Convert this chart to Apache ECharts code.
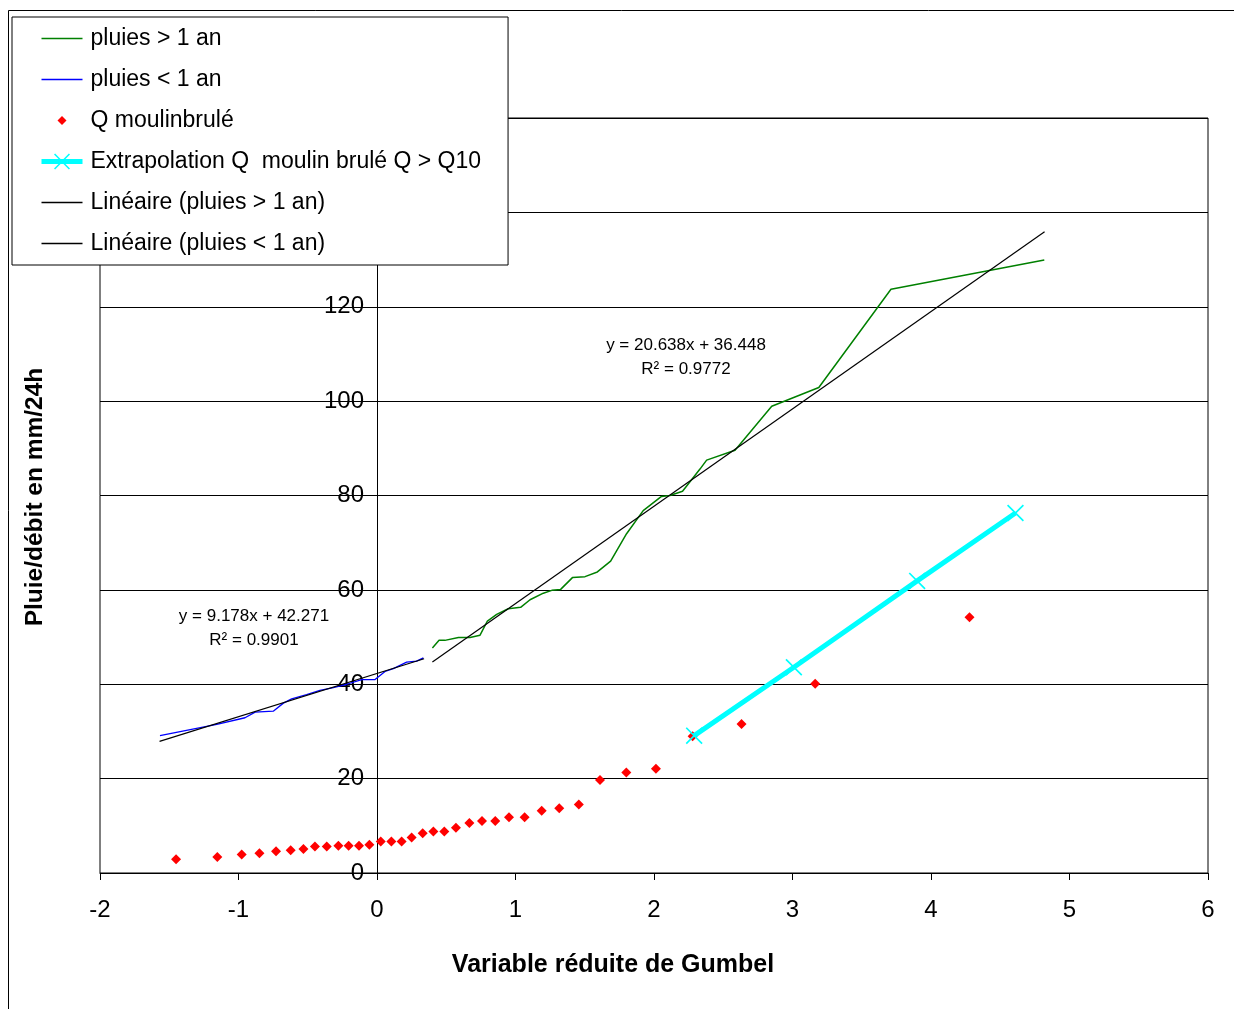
<!DOCTYPE html>
<html><head><meta charset="utf-8">
<script src="https://cdn.jsdelivr.net/npm/echarts@6/dist/echarts.min.js"></script>
<style>html,body{margin:0;padding:0;background:#fff}#c{width:1234px;height:1009px}</style>
</head><body><div id="c"></div>
<script>
// ---- data ----
const xTicks = [-2, -1, 0, 1, 2, 3, 4, 5, 6];
const yTicks = [0, 20, 40, 60, 80, 100, 120, 140, 160];

const pluiesSupX = [0.40,0.448,0.49,0.588,0.671,0.744,0.797,0.864,0.948,1.037,1.105,1.201,1.262,1.326,1.411,1.502,1.591,1.687,1.802,1.922,2.054,2.115,2.206,2.332,2.38,2.585,2.85,3.19,3.711,4.818];
const pluiesSupY = [47.7,49.3,49.3,49.9,49.9,50.4,53.4,54.8,56.0,56.3,57.9,59.3,59.9,60.1,62.6,62.8,63.8,66.1,71.9,76.8,79.8,80.0,80.9,85.6,87.5,89.6,98.9,102.9,123.7,129.9];

const pluiesInfX = [-1.567,-1.157,-0.953,-0.88,-0.749,-0.676,-0.616,-0.508,-0.412,-0.315,-0.219,-0.11,-0.014,0.058,0.118,0.214,0.286,0.335];
const pluiesInfY = [29.1,31.5,32.9,34.1,34.3,36.0,36.9,37.8,38.7,39.3,40.0,41.0,41.0,42.7,43.3,44.7,44.9,45.6];

const qX = [-1.451,-1.153,-0.977,-0.849,-0.729,-0.623,-0.531,-0.448,-0.363,-0.279,-0.205,-0.13,-0.055,0.027,0.104,0.178,0.25,0.33,0.407,0.486,0.57,0.667,0.758,0.854,0.953,1.066,1.189,1.316,1.457,1.61,1.80,2.014,2.279,2.632,3.164,4.278];
const qY = [2.9,3.4,3.9,4.2,4.6,4.8,5.1,5.6,5.6,5.8,5.8,5.8,6.0,6.7,6.7,6.7,7.5,8.4,8.8,8.8,9.6,10.6,11.0,11.0,11.8,11.8,13.2,13.7,14.5,19.7,21.3,22.1,29.0,31.6,40.1,54.2];

const extraX = [2.29, 3.01, 3.90, 4.61];
const extraY = [29.1, 43.6, 61.9, 76.3];

const trendSupX = [0.40, 4.82];
const trendSupY = [44.7, 135.9];
const trendInfX = [-1.57, 0.34];
const trendInfY = [27.9, 45.4];

const names = ['pluies > 1 an', 'pluies < 1 an', 'Q moulinbrulé', 'Extrapolation Q  moulin brulé Q > Q10', 'Linéaire (pluies > 1 an)', 'Linéaire (pluies < 1 an)'];
const eqSup = ['y = 20.638x + 36.448', 'R² = 0.9772'];
const eqInf = ['y = 9.178x + 42.271', 'R² = 0.9901'];
const xTitle = 'Variable réduite de Gumbel';
const yTitle = 'Pluie/débit en mm/24h';

// ---- chart ----
const FONT = '"Liberation Sans", Arial, sans-serif';
const pairs = (xs, ys) => xs.map((x, i) => [x, ys[i]]);
const XPATH = 'path://M0,0.7L0.7,0L10,9.3L9.3,10Z M9.3,0L10,0.7L0.7,10L0,9.3Z';
const DIAMOND_ICON = 'path://M0,0M20,20M10,5.5L14.5,10L10,14.5L5.5,10Z';
const LINE_ICON = 'path://M0,9.25L41,9.25L41,10.75L0,10.75Z';

const X_MIN = xTicks[0], X_MAX = xTicks[xTicks.length - 1];
const GRID_L = 100, GRID_R = 26;
const plotW = 1234 - GRID_L - GRID_R;
// move the y axis (line, ticks, labels) to x = 0, like the original
const yAxisOffset = -plotW * (0 - X_MIN) / (X_MAX - X_MIN);

const chart = echarts.init(document.getElementById('c'));
const txt = (text, x, y, size, bold, rot) => ({
  type: 'text', x: x, y: y, rotation: rot || 0, silent: true, z: 10,
  style: {
    text: text, fill: '#000',
    font: (bold ? 'bold ' : '') + size + 'px ' + FONT,
    align: 'center', verticalAlign: 'middle',
    textAlign: 'center', textVerticalAlign: 'middle'
  }
});

chart.setOption({
  animation: false,
  backgroundColor: '#fff',
  textStyle: { fontFamily: FONT },
  grid: { left: GRID_L, top: 118, right: GRID_R, bottom: 136, show: true, borderColor: '#000', borderWidth: 1 },
  xAxis: {
    type: 'value', min: X_MIN, max: X_MAX, interval: 1,
    axisLine: { onZero: true, lineStyle: { color: '#000', width: 1 } },
    axisTick: { show: true, length: 7, lineStyle: { color: '#000' } },
    axisLabel: { fontSize: 24, color: '#000', margin: 25, fontFamily: FONT },
    splitLine: { show: false }
  },
  yAxis: {
    type: 'value', min: yTicks[0], max: yTicks[yTicks.length - 1], interval: 20,
    offset: yAxisOffset,
    axisLine: { show: true, onZero: false, lineStyle: { color: '#000', width: 1 } },
    axisTick: { show: true, length: 7, lineStyle: { color: '#000' } },
    axisLabel: { fontSize: 24, color: '#000', margin: 13, fontFamily: FONT },
    splitLine: { show: true, lineStyle: { color: '#000', width: 1 } }
  },
  legend: {
    orient: 'vertical', left: 12, top: 17,
    padding: [10, 27, 10, 27],
    itemWidth: 41, itemHeight: 20, itemGap: 18,
    backgroundColor: '#fff', borderColor: '#000', borderWidth: 1, borderRadius: 0,
    textStyle: { fontSize: 23, color: '#000', padding: [0, 0, 0, 3], fontFamily: FONT },
    data: [
      { name: names[0], icon: LINE_ICON },
      { name: names[1], icon: LINE_ICON },
      { name: names[2], icon: DIAMOND_ICON },
      { name: names[3], lineStyle: { width: 5 } },
      { name: names[4], icon: LINE_ICON },
      { name: names[5], icon: LINE_ICON }
    ],
    z: 20
  },
  graphic: [
    { type: 'rect', silent: true, z: 0, shape: { x: 8.5, y: 10.5, width: 1240, height: 1010 }, style: { fill: 'none', stroke: '#000', lineWidth: 1 } },
    txt(yTitle, 35, 497, 24.5, true, Math.PI / 2),
    txt(xTitle, 613, 965, 25, true),
    txt(eqSup[0], 686, 345, 17, false),
    txt(eqSup[1], 686, 369, 17, false),
    txt(eqInf[0], 254, 616, 17, false),
    txt(eqInf[1], 254, 640, 17, false)
  ],
  series: [
    { name: names[0], type: 'line', data: pairs(pluiesSupX, pluiesSupY), symbol: 'none', z: 3,
      lineStyle: { color: '#008000', width: 1.5 }, itemStyle: { color: '#008000' } },
    { name: names[1], type: 'line', data: pairs(pluiesInfX, pluiesInfY), symbol: 'none', z: 3,
      lineStyle: { color: '#0000FF', width: 1.3 }, itemStyle: { color: '#0000FF' } },
    { name: names[2], type: 'scatter', data: pairs(qX, qY), symbol: 'diamond', symbolSize: 10, z: 2,
      itemStyle: { color: '#FF0000', opacity: 1 } },
    { name: names[3], type: 'line', data: pairs(extraX, extraY), symbol: XPATH, symbolSize: 17, z: 4,
      lineStyle: { color: '#00FFFF', width: 5 }, itemStyle: { color: '#00FFFF' } },
    { name: names[4], type: 'line', data: pairs(trendSupX, trendSupY), symbol: 'none', z: 5,
      lineStyle: { color: '#000', width: 1.2 }, itemStyle: { color: '#000' } },
    { name: names[5], type: 'line', data: pairs(trendInfX, trendInfY), symbol: 'none', z: 5,
      lineStyle: { color: '#000', width: 1.2 }, itemStyle: { color: '#000' } }
  ]
});
</script>
</body></html>
